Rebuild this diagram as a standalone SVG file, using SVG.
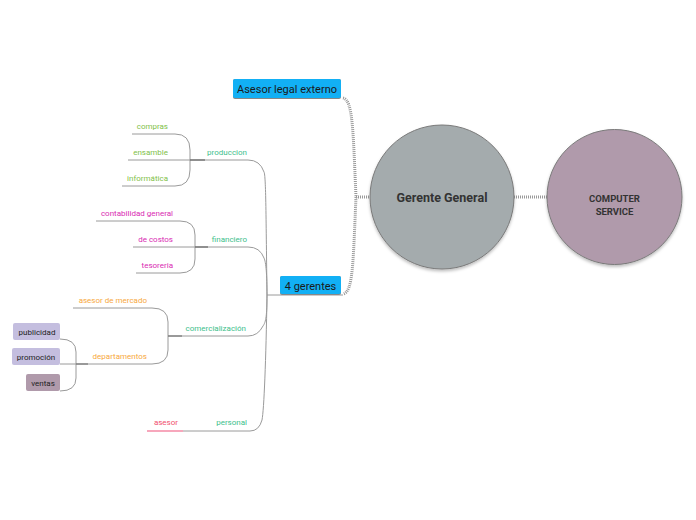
<svg xmlns="http://www.w3.org/2000/svg" width="696" height="520" viewBox="0 0 696 520">
<defs>
<style>
.t{font-family:Roboto,"Liberation Sans",sans-serif;font-size:8px;}
.g{fill:#7fbf4a}
.m{fill:#d92bb2}
.o{fill:#f7a840}
.r{fill:#f0506e}
.p{fill:#40c08c}
.ln{fill:none;stroke:#9a9a9a;stroke-width:1}
.dash{fill:none;stroke:#9a9a9a;stroke-width:3;stroke-dasharray:1 1}
.blue{fill:#12b0f5}
.bt{font-family:Roboto,"Liberation Sans",sans-serif;font-size:11px;fill:#1a1a1a}
.bx{font-family:Roboto,"Liberation Sans",sans-serif;font-size:8px;fill:#222}
</style>
<filter id="sh" x="-20%" y="-20%" width="140%" height="140%">
<feDropShadow dx="0" dy="2" stdDeviation="1.5" flood-color="#000" flood-opacity="0.25"/>
</filter>
</defs>

<g id="connectors">
<path class="dash" d="M514,197 L547,197"/>
<path class="dash" d="M356,197 L370,197"/>
<path class="dash" d="M343,98 C353,100 353,130 356,197 C353,265 353,292 343,294"/>
<path class="ln" d="M343,295 L267,295"/>
<path class="ln" d="M267,295 C266,220 266,175 264,172 Q260,160 248,160 L190,160"/>
<path class="ln" d="M267,295 C267,275 266,262 264,258 Q260,247 248,247 L195,247"/>
<path class="ln" d="M267,295 C267,315 266,322 263,326 Q258,336 248,336 L168,336"/>
<path class="ln" d="M267,295 C266,360 264,410 262,420 Q259,431 250,431 L183,431"/>
<path class="ln" d="M132,134 L175,134 Q190,134 190,150 L190,170 Q190,186 175,186 L122,186 M128,160 L190,160"/>
<path class="ln" d="M96,221 L180,221 Q195,221 195,235 L195,259 Q195,273 180,273 L136,273 M133,247 L195,247"/>
<path class="ln" d="M73,308 L152,308 Q168,308 168,322 L168,350 Q168,364 152,364 L88,364"/>
<path class="ln" d="M60,339 Q76,339 76,352 L76,378 Q76,391 60,391 M60,364 L88,364"/>
<path d="M190,160 L205,160" stroke="#666" stroke-width="1.2"/>
<path d="M195,247 L208,247" stroke="#666" stroke-width="1.2"/>
<path d="M168,336 L182,336" stroke="#777" stroke-width="1.2"/>
<path d="M76,364 L88,364" stroke="#777" stroke-width="1.2"/>
<path d="M147,431 L183,431" stroke="#f0507a" stroke-width="1.2"/>
</g>

<g id="gerente-general">
<circle cx="442" cy="197" r="72" fill="#a4abad" stroke="#7a7a7a" stroke-width="1" filter="url(#sh)"/>
<text x="442" y="201.5" text-anchor="middle" font-family="Roboto,'Liberation Sans',sans-serif" font-size="12.5" font-weight="bold" fill="#333">Gerente General</text>
</g>

<g id="computer-service">
<circle cx="614.5" cy="197" r="67.5" fill="#b09aab" stroke="#7a7a7a" stroke-width="1" filter="url(#sh)"/>
<text x="614.5" y="202" text-anchor="middle" font-family="Roboto,'Liberation Sans',sans-serif" font-size="9.5" font-weight="bold" fill="#333"><tspan x="614.5" y="202">COMPUTER</tspan><tspan x="614.5" y="215">SERVICE</tspan></text>
</g>

<g id="asesor-legal">
<rect x="233" y="79" width="108" height="20" rx="2" fill="#888" />
<rect x="233" y="79" width="108" height="19" rx="2" class="blue"/>
<text x="287" y="92.5" text-anchor="middle" class="bt" font-size="10.8">Asesor legal externo</text>
</g>

<g id="cuatro-gerentes">
<rect x="280" y="276" width="61" height="19" rx="2" fill="#888"/>
<rect x="280" y="276" width="61" height="18" rx="2" class="blue"/>
<text x="310.5" y="289.5" text-anchor="middle" class="bt">4 gerentes</text>
</g>

<g id="produccion"><text x="247" y="155" text-anchor="end" class="t p">produccion</text></g>
<g id="compras"><text x="168" y="129" text-anchor="end" class="t g">compras</text></g>
<g id="ensamble"><text x="168" y="155" text-anchor="end" class="t g">ensamble</text></g>
<g id="informatica"><text x="168" y="181" text-anchor="end" class="t g">informática</text></g>

<g id="financiero"><text x="247" y="242" text-anchor="end" class="t p">financiero</text></g>
<g id="contabilidad"><text x="173" y="216" text-anchor="end" class="t m">contabilidad general</text></g>
<g id="de-costos"><text x="173" y="242" text-anchor="end" class="t m">de costos</text></g>
<g id="tesoreria"><text x="173" y="268" text-anchor="end" class="t m">tesoreria</text></g>

<g id="comercializacion"><text x="246" y="331" text-anchor="end" class="t p">comercialización</text></g>
<g id="asesor-mercado"><text x="147" y="303" text-anchor="end" class="t o">asesor de mercado</text></g>
<g id="departamentos"><text x="147" y="359" text-anchor="end" class="t o">departamentos</text></g>

<g id="publicidad">
<rect x="13" y="323" width="47" height="17" rx="2" fill="#c4bedf"/>
<text x="37" y="334.5" text-anchor="middle" class="bx">publicidad</text>
</g>
<g id="promocion">
<rect x="12" y="348" width="48" height="17" rx="2" fill="#c4bedf"/>
<text x="36" y="359.5" text-anchor="middle" class="bx">promoción</text>
</g>
<g id="ventas">
<rect x="26" y="374" width="34" height="17" rx="2" fill="#b09aab"/>
<text x="43" y="385.5" text-anchor="middle" class="bx">ventas</text>
</g>

<g id="personal"><text x="247" y="425" text-anchor="end" class="t p">personal</text></g>
<g id="asesor"><text x="178" y="425" text-anchor="end" class="t r">asesor</text></g>
</svg>
